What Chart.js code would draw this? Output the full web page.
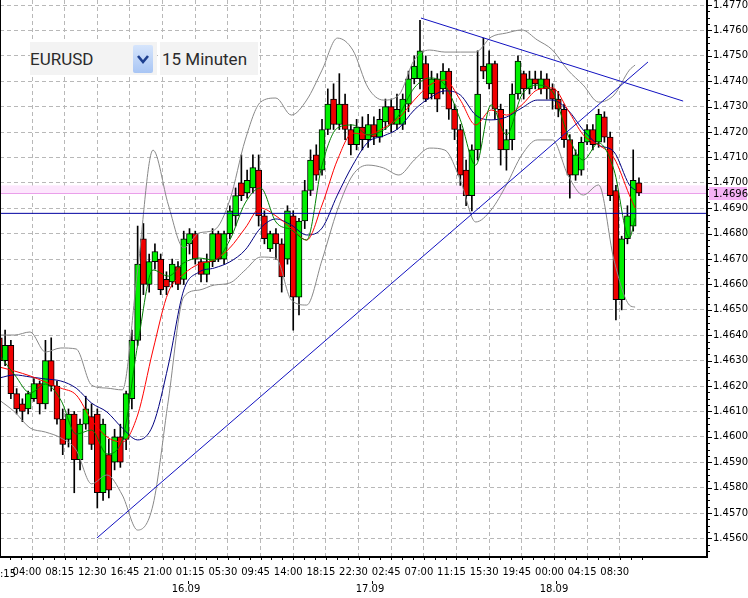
<!DOCTYPE html>
<html>
<head>
<meta charset="utf-8">
<script src="https://cdn.jsdelivr.net/npm/chart.js@4.4.1/dist/chart.umd.min.js"></script>
<style>
  html, body { margin: 0; padding: 0; background: #fff; }
  #wrap { position: relative; width: 748px; height: 598px; }
  .box { position: absolute; top: 42px; height: 33px; background: #f3f3f3; font: 17px Roboto, sans-serif; color: #2b2b2b; line-height: 34px; white-space: nowrap; }
  #symbol { left: 30px; width: 127px; }
  #period { left: 160px; width: 98px; padding-left: 2px; box-sizing: border-box; }
  #dropBtn { position: absolute; left: 133px; top: 45px; width: 20px; height: 28px; border-radius: 2px; background: linear-gradient(#d6e5fc, #a8c5f4); }
</style>
</head>
<body>
<div id="wrap">
  <canvas id="grafico" width="748" height="598"></canvas>
  <div class="box" id="symbol">EURUSD</div>
  <div id="dropBtn"><svg width="20" height="28"><path d="M5 11 L10 17 L15 11" stroke="#1d3f8f" stroke-width="2.6" fill="none"/></svg></div>
  <div class="box" id="period">15 Minuten</div>
</div>
<script>
// one candle drawn for every 3 bars of 15 minutes, first at bar 0
const candleStep = 3;
const candleOpen = [1.4639,1.4630,1.4636,1.4617,1.4613,1.4611,1.4615,1.4621,1.4613,1.4630,
  1.4620,1.4607,1.4599,1.4609,1.4591,1.4605,1.4608,1.4609,1.4578,1.4593,
  1.4590,1.4600,1.4599,1.4615,1.4638,1.4678,1.4660,1.4669,1.4670,1.4662,
  1.4661,1.4667,1.4662,1.4676,1.4680,1.4669,1.4664,1.4669,1.4680,1.4670,
  1.4680,1.4687,1.4700,1.4696,1.4698,1.4705,1.4687,1.4674,1.4680,1.4676,
  1.4670,1.4687,1.4655,1.4685,1.4697,1.4711,1.4705,1.4721,1.4733,1.4723,
  1.4731,1.4721,1.4715,1.4722,1.4717,1.4723,1.4718,1.4724,1.4730,1.4723,
  1.4723,1.4731,1.4741,1.4741,1.4747,1.4735,1.4741,1.4737,1.4744,1.4729,
  1.4721,1.4705,1.4695,1.4713,1.4746,1.4739,1.4747,1.4729,1.4713,1.4717,
  1.4735,1.4743,1.4737,1.4741,1.4737,1.4741,1.4737,1.4733,1.4729,1.4717,
  1.4703,1.4705,1.4716,1.4721,1.4716,1.4726,1.4718,1.4697,1.4654,1.4678,
  1.4683,1.4700];
const candleHigh = [1.4645,1.4642,1.4638,1.4619,1.4615,1.4618,1.4623,1.4622,1.4638,1.4639,
  1.4622,1.4611,1.4611,1.4610,1.4607,1.4616,1.4613,1.4611,1.4607,1.4599,
  1.4603,1.4605,1.4618,1.4642,1.4683,1.4684,1.4672,1.4676,1.4672,1.4665,
  1.4670,1.4669,1.4681,1.4682,1.4681,1.4670,1.4672,1.4682,1.4681,1.4681,
  1.4691,1.4698,1.4711,1.4705,1.4711,1.4711,1.4689,1.4681,1.4682,1.4678,
  1.4691,1.4689,1.4686,1.4701,1.4713,1.4715,1.4725,1.4737,1.4739,1.4743,
  1.4735,1.4723,1.4725,1.4726,1.4727,1.4726,1.4729,1.4733,1.4733,1.4735,
  1.4735,1.4744,1.4750,1.4764,1.4750,1.4744,1.4743,1.4747,1.4745,1.4731,
  1.4723,1.4709,1.4715,1.4752,1.4757,1.4752,1.4748,1.4731,1.4721,1.4739,
  1.4750,1.4744,1.4744,1.4744,1.4744,1.4743,1.4739,1.4736,1.4731,1.4719,
  1.4713,1.4718,1.4723,1.4723,1.4729,1.4728,1.4720,1.4699,1.4679,1.4691,
  1.4713,1.4702];
const candleLow = [1.4628,1.4628,1.4615,1.4609,1.4606,1.4609,1.4614,1.4609,1.4611,1.4618,
  1.4605,1.4593,1.4596,1.4578,1.4587,1.4603,1.4595,1.4572,1.4575,1.4576,
  1.4587,1.4588,1.4595,1.4611,1.4636,1.4656,1.4657,1.4666,1.4656,1.4656,
  1.4659,1.4658,1.4660,1.4672,1.4668,1.4661,1.4661,1.4667,1.4669,1.4668,
  1.4678,1.4683,1.4693,1.4694,1.4696,1.4683,1.4676,1.4673,1.4670,1.4657,
  1.4668,1.4642,1.4648,1.4682,1.4695,1.4701,1.4703,1.4719,1.4721,1.4721,
  1.4717,1.4711,1.4713,1.4713,1.4714,1.4715,1.4716,1.4721,1.4720,1.4721,
  1.4721,1.4728,1.4739,1.4737,1.4732,1.4733,1.4728,1.4735,1.4725,1.4717,
  1.4699,1.4691,1.4689,1.4709,1.4741,1.4737,1.4725,1.4707,1.4705,1.4713,
  1.4733,1.4733,1.4735,1.4737,1.4735,1.4733,1.4729,1.4726,1.4714,1.4694,
  1.4701,1.4703,1.4715,1.4713,1.4714,1.4716,1.4693,1.4646,1.4650,1.4676,
  1.4681,1.4695];
const candleClose = [1.4630,1.4636,1.4617,1.4611,1.4610,1.4617,1.4621,1.4613,1.4630,1.4620,
  1.4607,1.4597,1.4609,1.4591,1.4605,1.4611,1.4597,1.4578,1.4605,1.4579,
  1.4600,1.4590,1.4617,1.4638,1.4668,1.4660,1.4669,1.4673,1.4658,1.4659,
  1.4668,1.4660,1.4678,1.4680,1.4670,1.4664,1.4669,1.4680,1.4670,1.4680,
  1.4689,1.4695,1.4695,1.4701,1.4706,1.4687,1.4678,1.4680,1.4676,1.4663,
  1.4689,1.4655,1.4685,1.4697,1.4709,1.4703,1.4721,1.4731,1.4723,1.4731,
  1.4721,1.4715,1.4722,1.4717,1.4723,1.4718,1.4725,1.4730,1.4723,1.4729,
  1.4733,1.4741,1.4746,1.4752,1.4733,1.4741,1.4733,1.4744,1.4729,1.4721,
  1.4703,1.4695,1.4713,1.4735,1.4744,1.4747,1.4729,1.4713,1.4717,1.4735,
  1.4748,1.4737,1.4741,1.4739,1.4741,1.4737,1.4733,1.4729,1.4717,1.4703,
  1.4711,1.4716,1.4721,1.4715,1.4727,1.4718,1.4695,1.4654,1.4678,1.4687,
  1.4701,1.4696];

// indicator lines, read every 8 bars
const lineIdx = [0,8,16,24,32,40,48,56,64,72,80,88,96,104,112,120,128,136,144,152,
  160,168,176,184,192,200,208,216,224,232,240,248,256,264,272,280,288,296,304,312,320,328,331];
const greenMA = [1.46322,1.46244,1.46173,1.46208,1.46145,1.46011,1.46027,1.45933,1.45988,1.46362,
  1.46657,1.46633,1.46685,1.46704,1.46696,1.46775,1.46921,1.46980,1.46846,1.46815,
  1.46775,1.47070,1.47216,1.47228,1.47189,1.47208,1.47267,1.47374,1.47413,1.47385,
  1.47248,1.47070,1.47307,1.47189,1.47346,1.47385,1.47358,1.47189,1.47090,1.47157,
  1.47051,1.46783,1.46862];
const redMA = [1.46275,1.46259,1.46240,1.46216,1.46192,1.46165,1.46067,1.46000,1.45980,1.46086,
  1.46342,1.46570,1.46641,1.46681,1.46696,1.46744,1.46822,1.46901,1.46870,1.46822,
  1.46775,1.46913,1.47090,1.47196,1.47189,1.47216,1.47255,1.47326,1.47385,1.47405,
  1.47326,1.47228,1.47287,1.47267,1.47307,1.47366,1.47374,1.47287,1.47189,1.47149,
  1.47098,1.46952,1.46901];
const blueMA = [1.46232,1.46244,1.46236,1.46228,1.46220,1.46192,1.46133,1.46098,1.46035,1.45988,
  1.46047,1.46283,1.46578,1.46649,1.46665,1.46689,1.46736,1.46822,1.46858,1.46834,
  1.46795,1.46822,1.46952,1.47070,1.47161,1.47185,1.47216,1.47287,1.47334,1.47362,
  1.47346,1.47267,1.47248,1.47259,1.47295,1.47326,1.47326,1.47287,1.47208,1.47149,
  1.47122,1.46992,1.46972];
const bandUpper = [1.46401,1.46401,1.46413,1.46334,1.46350,1.46346,1.46204,1.46192,1.46185,1.46657,
  1.47129,1.46913,1.46744,1.46803,1.46815,1.46933,1.47169,1.47318,1.47334,1.47267,
  1.47326,1.47444,1.47570,1.47523,1.47374,1.47326,1.47346,1.47484,1.47523,1.47515,
  1.47515,1.47515,1.47574,1.47590,1.47602,1.47563,1.47523,1.47444,1.47385,1.47318,
  1.47346,1.47444,1.47464];
const bandLower = [1.46145,1.46098,1.46035,1.46019,1.45996,1.45948,1.45815,1.45850,1.45771,1.45633,
  1.45732,1.46145,1.46551,1.46578,1.46598,1.46606,1.46657,1.46708,1.46704,1.46539,
  1.46519,1.46696,1.46893,1.47031,1.47070,1.47059,1.47031,1.47090,1.47137,1.47129,
  1.47011,1.46846,1.46893,1.46992,1.47110,1.47169,1.47169,1.47031,1.46952,1.46992,
  1.46696,1.46519,1.46511];

// trend lines (bar index, price)
const trendUpIdx = [50.8, 337.7];
const trendUpVal = [1.45602, 1.47476];
const trendDownIdx = [219.5, 356];
const trendDownVal = [1.47649, 1.47322];
const levelLine = 1.4688;
const bidPrice = 1.4696;
const askPrice = 1.4699;

// axes
const timeTicks = [17,34,51,68,85,102,119,136,153,170,187,204,221,238,255,272,289,306,323];
const timeLabels = ['04:00','08:15','12:30','16:45','21:00','01:15','05:30','09:45','14:00','18:15',
  '22:30','02:45','07:00','11:15','15:30','19:45','00:00','04:15','08:30'];
const dayIdx = [97, 193, 289];
const dayLabels = ['16.09', '17.09', '18.09'];
const priceTicks = [];
for (let p = 14560; p <= 14770; p += 10) priceTicks.push(p / 10000);

const AXIS_FONT = { family: 'DejaVu Sans', size: 10 };

const pontos = (idx, vals) => idx.map((x, j) => ({ x: x, y: vals[j] }));
const bodyData = candleOpen.map((o, k) => ({ x: k * candleStep, y: [o, candleClose[k]] }));
const wickData = candleOpen.map((o, k) => ({ x: k * candleStep, y: [candleLow[k], candleHigh[k]] }));
const bodyColors = candleOpen.map((o, k) => candleClose[k] >= o ? '#00f000' : '#f00000');

function linha(data, color) {
    return {
        type: 'line', data: data, borderColor: color, borderWidth: 1,
        pointRadius: 0, fill: false, cubicInterpolationMode: 'monotone'
    };
}

// no extra room for half labels: the plot runs edge to edge like the original
function semRecuo(s) {
    s.paddingTop = 0; s.paddingBottom = 0; s.paddingLeft = 0; s.paddingRight = 0;
}

const moldura = {
    id: 'moldura',
    beforeDatasetsDraw(chart) {
        const { ctx, chartArea: a, scales: { y } } = chart;
        const top = y.getPixelForValue(askPrice);
        const bot = Math.round(y.getPixelForValue(bidPrice));
        ctx.save();
        ctx.fillStyle = '#fde6fd';
        ctx.fillRect(a.left, top, a.right - a.left, bot - top);
        ctx.strokeStyle = '#ea9fea';
        ctx.lineWidth = 1;
        ctx.beginPath();
        ctx.moveTo(a.left, bot + 0.5);
        ctx.lineTo(a.right, bot + 0.5);
        ctx.stroke();
        ctx.restore();
    },
    afterDraw(chart) {
        const { ctx, chartArea: a, scales: { x, y } } = chart;
        ctx.save();
        ctx.fillStyle = '#000';
        // frame
        ctx.fillRect(a.left, a.top, 1, a.bottom - a.top);
        ctx.fillRect(a.right, a.top, 2, a.bottom - a.top + 2);
        ctx.fillRect(a.left, a.bottom, a.right - a.left + 2, 2);
        // price axis ticks
        for (let p = 14555; p <= 14772; p += 2.5) {
            const py = Math.round(y.getPixelForValue(p / 10000));
            const major = Math.abs(p % 10) < 0.01;
            ctx.fillRect(a.right + 2, py, major ? 4 : 2, 1);
        }
        // time axis ticks
        for (let i = 0; i <= 340; i += 17 / 3) {
            const px = Math.round(x.getPixelForValue(i));
            if (px < a.left || px > a.right) continue;
            ctx.fillRect(px, a.bottom + 2, 1, 2);
        }
        ctx.font = '10px "DejaVu Sans"';
        ctx.textBaseline = 'alphabetic';
        ctx.textAlign = 'left';
        ctx.fillText(':15', 0, a.bottom + 21);
        ctx.textAlign = 'center';
        dayIdx.forEach((d, j) => {
            const px = Math.round(x.getPixelForValue(d));
            ctx.fillRect(px + 2, a.bottom + 25, 1, 3);
            ctx.fillText(dayLabels[j], px, a.bottom + 36);
        });
        // current price tag
        const by = Math.round(y.getPixelForValue(bidPrice));
        ctx.fillStyle = '#f5b2f5';
        ctx.fillRect(a.right + 3, by - 6, 38, 13);
        ctx.fillStyle = '#000';
        ctx.textAlign = 'left';
        ctx.fillText(bidPrice.toFixed(4), a.right + 7, by + 4);
        ctx.restore();
    }
};

const ctx = document.getElementById('grafico').getContext('2d');
const grafico = new Chart(ctx, {
    type: 'bar',
    data: {
        datasets: [
            linha(pontos(trendUpIdx, trendUpVal), '#1010c0'),
            linha(pontos(trendDownIdx, trendDownVal), '#1010c0'),
            linha(pontos([0, 368], [levelLine, levelLine]), '#0000a0'),
            linha(pontos(lineIdx, greenMA), '#008000'),
            linha(pontos(lineIdx, redMA), '#ff0000'),
            linha(pontos(lineIdx, blueMA), '#000080'),
            linha(pontos(lineIdx, bandUpper), '#888888'),
            linha(pontos(lineIdx, bandLower), '#888888'),
            {
                data: bodyData, backgroundColor: bodyColors, borderColor: '#000',
                borderWidth: 1, borderSkipped: false, barThickness: 6, minBarLength: 2, grouped: false
            },
            {
                data: wickData, backgroundColor: '#000', borderWidth: 0,
                barThickness: 1, grouped: false
            }
        ]
    },
    options: {
        responsive: false,
        animation: false,
        devicePixelRatio: 1,
        layout: { padding: 0 },
        plugins: { legend: { display: false }, tooltip: { enabled: false } },
        scales: {
            x: {
                type: 'linear', position: 'bottom', min: 0.34, max: 367.9, offset: false,
                grid: { color: '#b8b8b8', drawTicks: false, offset: false },
                border: { display: false, dash: [4, 3] },
                afterBuildTicks: (s) => { s.ticks = timeTicks.map(v => ({ value: v })); },
                afterFit: (s) => { s.height = 42; semRecuo(s); },
                ticks: {
                    autoSkip: false, maxRotation: 0, font: AXIS_FONT, color: '#000',
                    padding: 10, labelOffset: -5,
                    callback: (v) => timeLabels[timeTicks.indexOf(v)]
                }
            },
            y: {
                type: 'linear', position: 'right', min: 1.45531, max: 1.47720,
                grid: { color: '#b8b8b8', drawTicks: false },
                border: { display: false, dash: [4, 3] },
                afterBuildTicks: (s) => { s.ticks = priceTicks.map(v => ({ value: v })); },
                afterFit: (s) => { s.width = 42; semRecuo(s); },
                ticks: {
                    font: AXIS_FONT, color: '#000', padding: 7,
                    callback: (v) => v.toFixed(4)
                }
            }
        }
    },
    plugins: [moldura]
});
</script>
</body>
</html>
